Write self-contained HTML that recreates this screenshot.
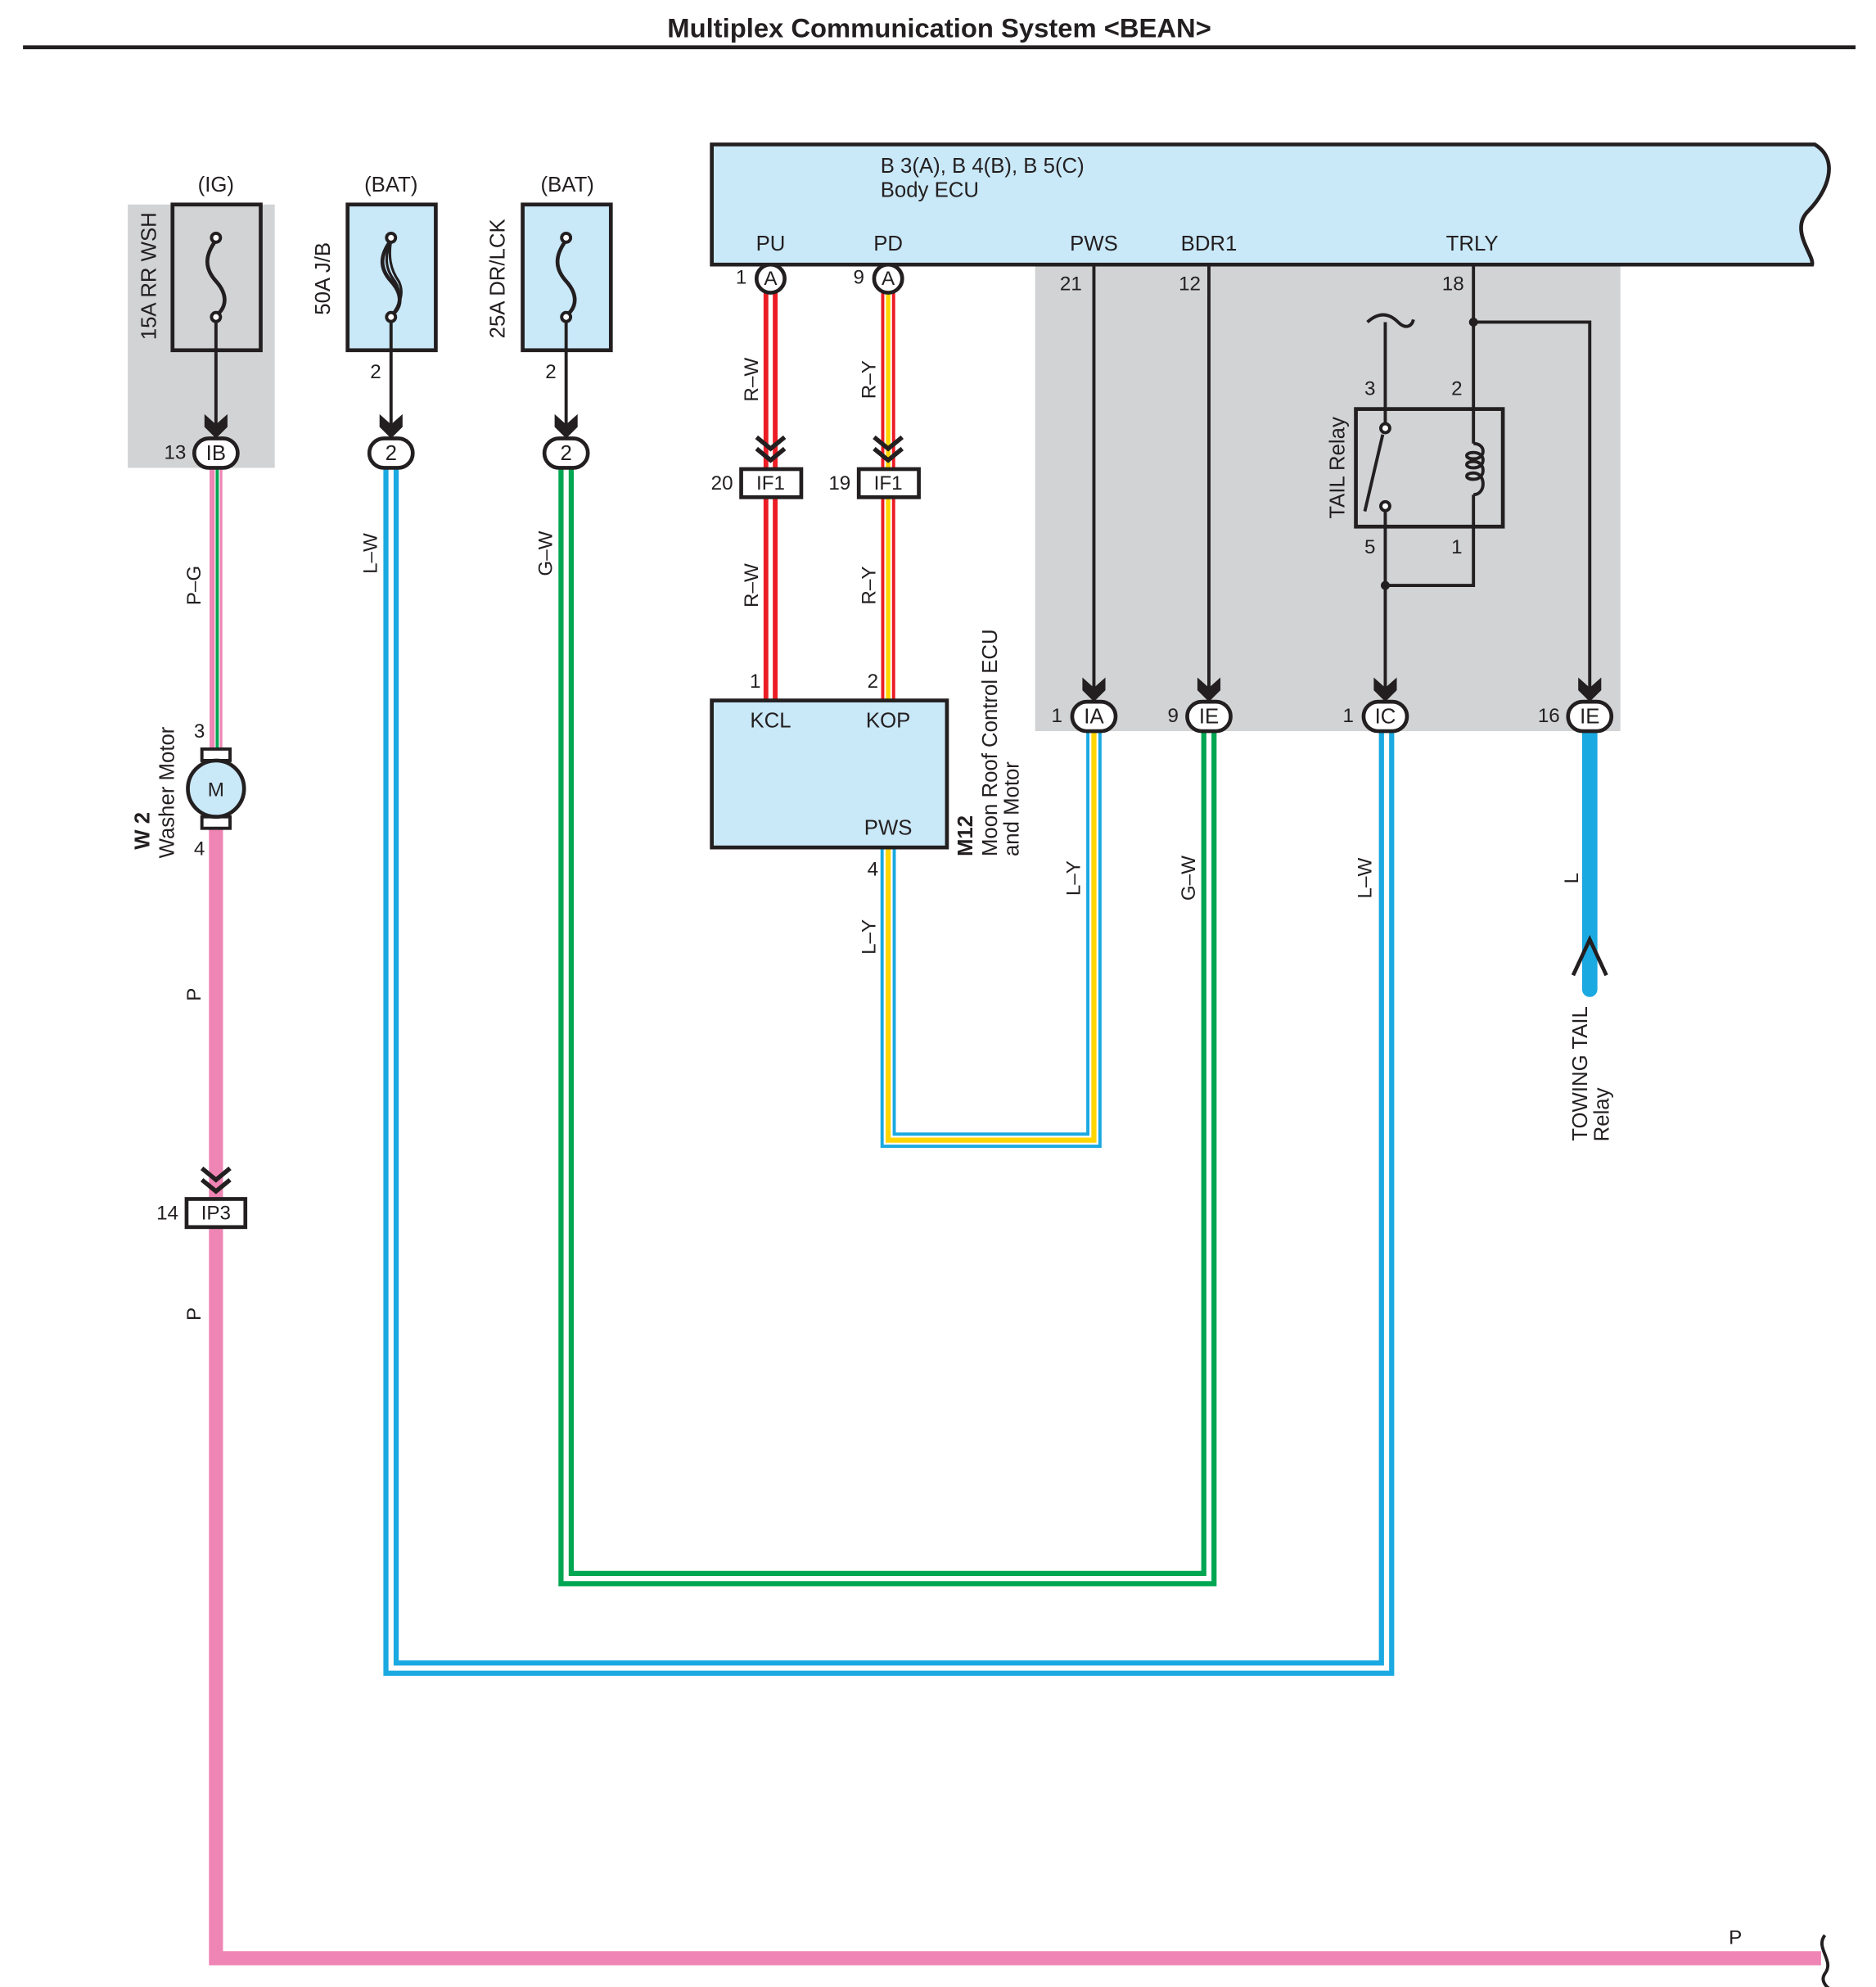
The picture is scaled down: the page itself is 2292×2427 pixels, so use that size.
<!DOCTYPE html>
<html><head><meta charset="utf-8"><style>
html,body{margin:0;padding:0;background:#fff}
svg{display:block}
text{font-family:"Liberation Sans",sans-serif;fill:#231f20}
</style></head><body>
<svg width="2292" height="2427" viewBox="0 0 1468 1554.5" preserveAspectRatio="none" xmlns="http://www.w3.org/2000/svg">
<defs>
<path id="ah" d="M-9,-18 L0,-10 L9,-18 L9,-8 L0,1 L-9,-8 Z" fill="#231f20"/>
<g id="dv" fill="none" stroke="#231f20" stroke-width="3.5"><polyline points="-11,-22 0,-13 11,-22"/><polyline points="-11,-13 0,-4 11,-13"/></g>
</defs>
<text x="735" y="29" font-size="21" font-weight="bold" text-anchor="middle">Multiplex Communication System &lt;BEAN&gt;</text>
<line x1="18" y1="37" x2="1452" y2="37" stroke="#231f20" stroke-width="3"/>

<rect x="100" y="160" width="115" height="206" fill="#d1d3d4"/>
<rect x="810" y="207" width="458" height="365" fill="#d1d3d4"/>

<text x="169" y="150" font-size="16.5" text-anchor="middle">(IG)</text>
<text x="306" y="150" font-size="16.5" text-anchor="middle">(BAT)</text>
<text x="444" y="150" font-size="16.5" text-anchor="middle">(BAT)</text>
<rect x="135" y="160" width="69" height="114" fill="#d1d3d4" stroke="#231f20" stroke-width="3"/>
<rect x="272" y="160" width="69" height="114" fill="#c9e8f8" stroke="#231f20" stroke-width="3"/>
<rect x="409" y="160" width="69" height="114" fill="#c9e8f8" stroke="#231f20" stroke-width="3"/>
<text transform="translate(122,216) rotate(-90)" font-size="16.5" text-anchor="middle">15A RR WSH</text>
<text transform="translate(258,218) rotate(-90)" font-size="16.5" text-anchor="middle">50A J/B</text>
<text transform="translate(395,218) rotate(-90)" font-size="16.5" text-anchor="middle">25A DR/LCK</text>
<g fill="none" stroke="#231f20" stroke-width="3">
<path d="M169,188 C160,200 160,210 169,220 C178,230 178,240 169,247"/>
<path d="M306,188 C297,200 297,210 306,220 C315,230 315,240 306,247"/>
<path d="M306,188 C301,200 301,210 309,220 C315,230 313,240 306,247" stroke-width="2"/>
<path d="M306,188 C304,200 305,210 312,220 C317,230 312,240 306,247" stroke-width="2"/>
<path d="M443,188 C434,200 434,210 443,220 C452,230 452,240 443,247"/>
</g>
<g fill="#fff" stroke="#231f20" stroke-width="2.5">
<circle cx="169" cy="186" r="3.5"/><circle cx="169" cy="248" r="3.5"/>
<circle cx="306" cy="186" r="3.5"/><circle cx="306" cy="248" r="3.5"/>
<circle cx="443" cy="186" r="3.5"/><circle cx="443" cy="248" r="3.5"/>
</g>
<g stroke="#231f20" stroke-width="2.5">
<line x1="169" y1="252" x2="169" y2="335"/>
<line x1="306" y1="252" x2="306" y2="335"/>
<line x1="443" y1="252" x2="443" y2="335"/>
</g>
<text x="294" y="296" font-size="15.5" text-anchor="middle">2</text>
<text x="431" y="296" font-size="15.5" text-anchor="middle">2</text>
<use href="#ah" x="169" y="342"/><use href="#ah" x="306" y="342"/><use href="#ah" x="443" y="342"/>

<g fill="none" stroke-linejoin="miter">
<line x1="169" y1="366" x2="169" y2="590" stroke="#ef85b5" stroke-width="10"/>
<line x1="170" y1="366" x2="170" y2="590" stroke="#fff" stroke-width="4"/>
<line x1="170" y1="366" x2="170" y2="590" stroke="#00a651" stroke-width="2.5"/>
<polyline points="169,648 169,1532 1425,1532" stroke="#ef85b5" stroke-width="11"/>
<polyline points="306,366 306,1305 1085,1305 1085,572" stroke="#1ba9e1" stroke-width="12"/>
<polyline points="306,366 306,1305 1085,1305 1085,572" stroke="#fff" stroke-width="4"/>
<polyline points="443,366 443,1235 946,1235 946,572" stroke="#00a651" stroke-width="12"/>
<polyline points="443,366 443,1235 946,1235 946,572" stroke="#fff" stroke-width="4"/>
<line x1="603" y1="229" x2="603" y2="548" stroke="#ec1c24" stroke-width="11"/>
<line x1="603" y1="229" x2="603" y2="548" stroke="#fff" stroke-width="3.5"/>
<line x1="695" y1="229" x2="695" y2="548" stroke="#ec1c24" stroke-width="11"/>
<line x1="695" y1="229" x2="695" y2="548" stroke="#fff" stroke-width="6"/>
<line x1="695" y1="229" x2="695" y2="548" stroke="#ffd500" stroke-width="3.5"/>
<polyline points="695,663 695,892 856,892 856,572" stroke="#1ba9e1" stroke-width="12"/>
<polyline points="695,663 695,892 856,892 856,572" stroke="#fff" stroke-width="7"/>
<polyline points="695,663 695,892 856,892 856,572" stroke="#ffd500" stroke-width="4"/>
<line x1="1244" y1="572" x2="1244" y2="774" stroke="#1ba9e1" stroke-width="12" stroke-linecap="round"/>
</g>

<g fill="#fff" stroke="#231f20" stroke-width="3">
<rect x="152" y="343" width="34" height="23" rx="11.5"/>
<rect x="289" y="343" width="34" height="23" rx="11.5"/>
<rect x="426" y="343" width="34" height="23" rx="11.5"/>
<rect x="839" y="549" width="34" height="23" rx="11.5"/>
<rect x="929" y="549" width="34" height="23" rx="11.5"/>
<rect x="1067" y="549" width="34" height="23" rx="11.5"/>
<rect x="1227" y="549" width="34" height="23" rx="11.5"/>
</g>
<g font-size="16.5" text-anchor="middle">
<text x="169" y="360">IB</text><text x="306" y="360">2</text><text x="443" y="360">2</text>
<text x="856" y="566">IA</text><text x="946" y="566">IE</text><text x="1084" y="566">IC</text><text x="1244" y="566">IE</text>
</g>
<g font-size="15.5" text-anchor="middle">
<text x="137" y="359">13</text>
<text x="827" y="565">1</text><text x="918" y="565">9</text><text x="1055" y="565">1</text><text x="1212" y="565">16</text>
</g>

<rect x="158" y="586" width="22" height="9" fill="#fff" stroke="#231f20" stroke-width="2.5"/>
<rect x="158" y="639" width="22" height="9" fill="#fff" stroke="#231f20" stroke-width="2.5"/>
<circle cx="169" cy="617" r="22" fill="#c9e8f8" stroke="#231f20" stroke-width="3"/>
<text x="169" y="623" font-size="15.5" text-anchor="middle">M</text>
<text x="156" y="577" font-size="15.5" text-anchor="middle">3</text>
<text x="156" y="669" font-size="15.5" text-anchor="middle">4</text>
<text transform="translate(117,620) rotate(-90)" font-size="16.5" font-weight="bold" text-anchor="middle" x="-30">W 2</text>
<text transform="translate(136,620) rotate(-90)" font-size="16.5" text-anchor="middle">Washer Motor</text>

<g font-size="15.5" text-anchor="middle">
<text transform="translate(157,458) rotate(-90)">P–G</text>
<text transform="translate(157,778) rotate(-90)">P</text>
<text transform="translate(157,1028) rotate(-90)">P</text>
<text transform="translate(295,433) rotate(-90)">L–W</text>
<text transform="translate(432,433) rotate(-90)">G–W</text>
<text transform="translate(593,297) rotate(-90)">R–W</text>
<text transform="translate(593,458) rotate(-90)">R–W</text>
<text transform="translate(685,297) rotate(-90)">R–Y</text>
<text transform="translate(685,458) rotate(-90)">R–Y</text>
<text transform="translate(685,733) rotate(-90)">L–Y</text>
<text transform="translate(845,687) rotate(-90)">L–Y</text>
<text transform="translate(935,687) rotate(-90)">G–W</text>
<text transform="translate(1073,687) rotate(-90)">L–W</text>
<text transform="translate(1235,687) rotate(-90)">L</text>
<text x="1358" y="1521">P</text>
</g>

<use href="#dv" x="169" y="936"/>
<rect x="146" y="938" width="46" height="22" fill="#fff" stroke="#231f20" stroke-width="3"/>
<text x="169" y="954" font-size="15.5" text-anchor="middle">IP3</text>
<text x="131" y="954" font-size="15.5" text-anchor="middle">14</text>
<path d="M1428,1514 C1420,1524 1436,1534 1428,1544 C1424,1550 1430,1555 1432,1556" fill="none" stroke="#231f20" stroke-width="2.5"/>

<path d="M557,113 L1420,113 C1440,125 1430,150 1415,165 C1400,180 1420,200 1418,207 L557,207 Z" fill="#c9e8f8" stroke="#231f20" stroke-width="3"/>
<text x="689" y="135" font-size="16.5">B 3(A), B 4(B), B 5(C)</text>
<text x="689" y="154" font-size="16.5">Body ECU</text>
<g font-size="16.5" text-anchor="middle">
<text x="603" y="196">PU</text><text x="695" y="196">PD</text><text x="856" y="196">PWS</text><text x="946" y="196">BDR1</text><text x="1152" y="196">TRLY</text>
</g>
<circle cx="603" cy="218" r="11" fill="#fff" stroke="#231f20" stroke-width="3"/>
<circle cx="695" cy="218" r="11" fill="#fff" stroke="#231f20" stroke-width="3"/>
<g font-size="15.5" text-anchor="middle">
<text x="603" y="223">A</text><text x="695" y="223">A</text>
<text x="580" y="222">1</text><text x="672" y="222">9</text>
<text x="838" y="227">21</text><text x="931" y="227">12</text><text x="1137" y="227">18</text>
</g>

<use href="#dv" x="603" y="364"/><use href="#dv" x="695" y="364"/>
<rect x="580" y="367" width="47" height="22" fill="#fff" stroke="#231f20" stroke-width="3"/>
<rect x="672" y="367" width="47" height="22" fill="#fff" stroke="#231f20" stroke-width="3"/>
<g font-size="15.5" text-anchor="middle">
<text x="603" y="383">IF1</text><text x="695" y="383">IF1</text>
<text x="565" y="383">20</text><text x="657" y="383">19</text>
<text x="591" y="538">1</text><text x="683" y="538">2</text><text x="683" y="685">4</text>
</g>

<rect x="557" y="548" width="184" height="115" fill="#c9e8f8" stroke="#231f20" stroke-width="3"/>
<g font-size="16.5" text-anchor="middle">
<text x="603" y="569">KCL</text><text x="695" y="569">KOP</text><text x="695" y="653">PWS</text>
</g>
<text transform="translate(761,670) rotate(-90)" font-size="16.5" font-weight="bold">M12</text>
<text transform="translate(780,670) rotate(-90)" font-size="16.5">Moon Roof Control ECU</text>
<text transform="translate(797,670) rotate(-90)" font-size="16.5">and Motor</text>

<g stroke="#231f20" stroke-width="2.5" fill="none">
<line x1="856" y1="207" x2="856" y2="540"/>
<line x1="946" y1="207" x2="946" y2="540"/>
<polyline points="1153,207 1153,320"/>
<polyline points="1153,252 1244,252 1244,540"/>
<path d="M1070,252 C1080,243 1088,246 1094,252 C1100,258 1105,255 1106,250"/>
<line x1="1084" y1="252" x2="1084" y2="331"/>
<line x1="1082" y1="340" x2="1068" y2="400"/>
<line x1="1084" y1="399" x2="1084" y2="540"/>
<polyline points="1153,320 1153,347"/>
<path d="M1153,347 C1163,347 1163,359 1153,359 C1146,359 1146,354 1153,354 C1163,354 1163,366 1153,366 C1146,366 1146,361 1153,361 C1163,361 1163,375 1153,375 C1146,375 1146,370 1153,370 C1163,370 1163,387 1153,387"/>
<polyline points="1153,387 1153,458 1084,458"/>
</g>
<rect x="1061" y="320" width="115" height="92" fill="none" stroke="#231f20" stroke-width="3"/>
<circle cx="1084" cy="335" r="3.5" fill="#fff" stroke="#231f20" stroke-width="2.5"/>
<circle cx="1084" cy="396" r="3.5" fill="#fff" stroke="#231f20" stroke-width="2.5"/>
<circle cx="1153" cy="252" r="3.5" fill="#231f20"/>
<circle cx="1084" cy="458" r="3.5" fill="#231f20"/>
<g font-size="15.5" text-anchor="middle">
<text x="1072" y="309">3</text><text x="1140" y="309">2</text><text x="1072" y="433">5</text><text x="1140" y="433">1</text>
</g>
<text transform="translate(1052,366) rotate(-90)" font-size="16.5" text-anchor="middle">TAIL Relay</text>
<use href="#ah" x="856" y="548"/><use href="#ah" x="946" y="548"/><use href="#ah" x="1084" y="548"/><use href="#ah" x="1244" y="548"/>

<polyline points="1231,763 1244,735 1257,763" fill="none" stroke="#231f20" stroke-width="3"/>
<text transform="translate(1242,840) rotate(-90)" font-size="16.5" text-anchor="middle">TOWING TAIL</text>
<text transform="translate(1259,872) rotate(-90)" font-size="16.5" text-anchor="middle">Relay</text>
</svg>
</body></html>
